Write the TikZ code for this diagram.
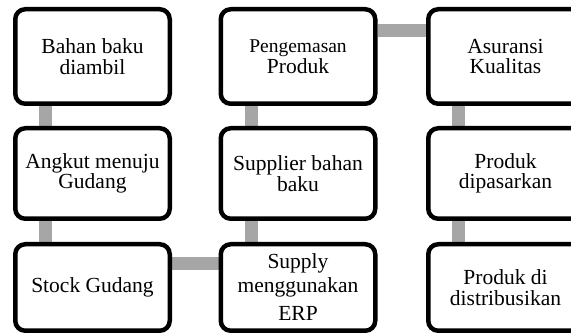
\documentclass[tikz,border=0pt]{standalone}
\usepackage{fontspec}
\setmainfont{Liberation Serif}
\usetikzlibrary{positioning,backgrounds}
\definecolor{bargray}{RGB}{166,166,166}
\begin{document}
\begin{tikzpicture}[x=1pt,y=1pt,
    stepbox/.style={draw=black,line width=4.5pt,rounded corners=10pt,fill=white,
      minimum width=154.5pt,align=center,inner sep=2pt,
      font=\fontsize{21.5}{20.5}\selectfont},
    bar/.style={draw=bargray,line width=13pt}]
    \useasboundingbox (0,0) rectangle (571,335);
    % kolom kiri
    \node[stepbox,minimum height=94.5pt] (ambil) at (92.5,278.5) {Bahan baku\\diambil};
    \node[stepbox,minimum height=90.5pt] (angkut) at (92.5,161.5) {Angkut menuju\\Gudang};
    \node[stepbox,minimum height=86.5pt] (stock) at (92.5,47.5) {Stock Gudang};
    % kolom tengah
    \node[stepbox,minimum height=94.5pt] (kemas) at (298,278.5) {{\fontsize{19.5}{20.5}\selectfont Pengemasan}\\Produk};
    \node[stepbox,minimum height=90.5pt] (supplier) at (298,161.5) {Supplier bahan\\baku};
    \node[stepbox,minimum height=86.5pt,font=\fontsize{21.5}{24}\selectfont] (supply) at (298,47.5) {Supply\\menggunakan\\[4pt]ERP};
    % kolom kanan
    \node[stepbox,minimum height=94.5pt] (asuransi) at (505.5,278.5) {Asuransi\\Kualitas};
    \node[stepbox,minimum height=90.5pt] (pasar) at (505.5,161.5) {Produk\\dipasarkan};
    \node[stepbox,minimum height=86.5pt] (distribusi) at (505.5,47.5) {Produk di\\distribusikan};
    \begin{scope}[on background layer]
        \draw[bar] ([xshift=32pt]ambil.south west) -- ([xshift=32pt]angkut.north west);
        \draw[bar] ([xshift=32pt]angkut.south west) -- ([xshift=32pt]stock.north west);
        \draw[bar] ([yshift=-22pt]stock.north east) -- ([yshift=-22pt]supply.north west);
        \draw[bar] ([xshift=33pt]supply.north west) -- ([xshift=33pt]supplier.south west);
        \draw[bar] ([xshift=33pt]supplier.north west) -- ([xshift=33pt]kemas.south west);
        \draw[bar] ([yshift=-24pt]kemas.north east) -- ([yshift=-24pt]asuransi.north west);
        \draw[bar] ([xshift=32pt]asuransi.south west) -- ([xshift=32pt]pasar.north west);
        \draw[bar] ([xshift=32pt]pasar.south west) -- ([xshift=32pt]distribusi.north west);
    \end{scope}
\end{tikzpicture}
\end{document}
